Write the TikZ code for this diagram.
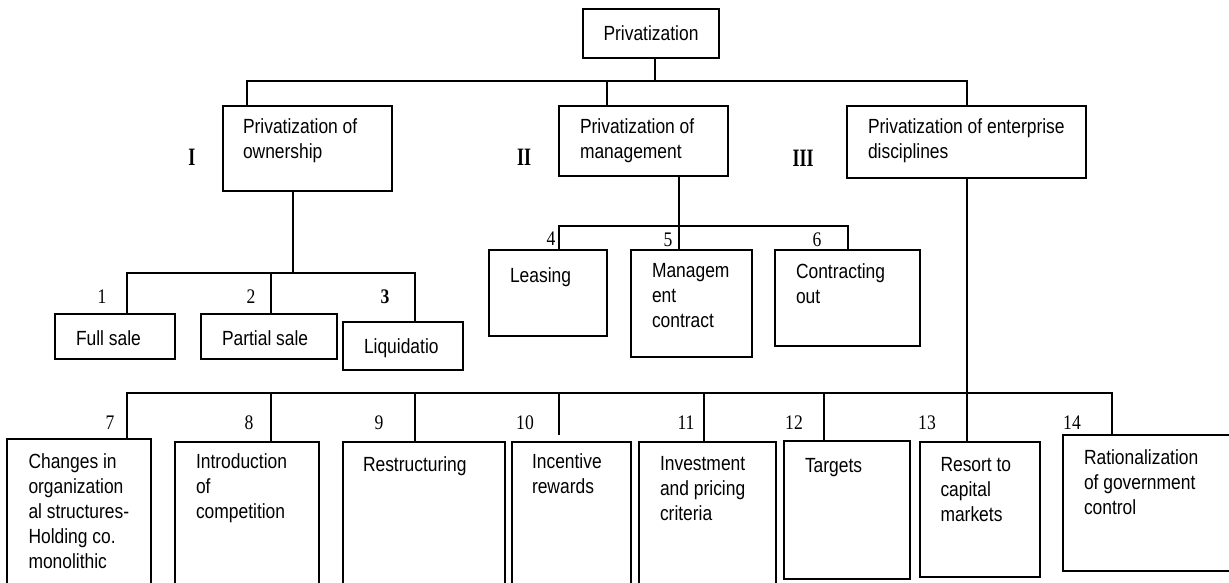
\documentclass[tikz,border=0pt]{standalone}
\usepackage{fontspec}
\setmainfont{Liberation Sans}[FakeStretch=0.85]
\newfontfamily\numfont{Liberation Serif}[FakeStretch=0.85]
\newfontfamily\romfont{Liberation Serif}[FakeStretch=0.72]

\begin{document}
\begin{tikzpicture}[x=1pt,y=-1pt,
  line width=1.9pt,
  box/.style={draw, rectangle, anchor=north west, inner sep=0pt, outer sep=0pt},
  boxfont/.style={font=\fontsize{20.5pt}{25pt}\selectfont},
  txt/.style={boxfont, anchor=north west, inner sep=0pt, outer sep=0pt,
    align=left, execute at begin node=\strut},
  num/.style={inner sep=0pt, font=\numfont\fontsize{20.7pt}{25pt}\selectfont},
  rom/.style={inner sep=0pt, font=\romfont\bfseries\fontsize{25pt}{30pt}\selectfont},
]
\useasboundingbox (0,0) rectangle (1229,582);
\clip (0,0) rectangle (1229,582);

% ---- root and the three branches
\node[box, boxfont, minimum width=136pt, minimum height=49pt] (P) at (583,9) {Privatization};
\node[box, minimum width=169pt, minimum height=85pt] (bI)   at (223,106) {};
\node[box, minimum width=169pt, minimum height=70pt] (bII)  at (559,106) {};
\node[box, minimum width=239pt, minimum height=72pt] (bIII) at (847,106) {};

\node[txt] (tI)   at (243,118.5) {Privatization of\\ownership};
\node[txt] (tII)  at (580,118.5) {Privatization of\\management};
\node[txt] (tIII) at (868,118.5) {Privatization of enterprise\\disciplines};

\node[rom] (rI)   at (192,157) {I};
\node[rom] (rII)  at (524,157) {II};
\node[rom] (rIII) at (803,158) {III};

% ---- branch I: ownership
\node[box, minimum width=120pt, minimum height=45pt] (bFull) at (55,314) {};
\node[box, minimum width=136pt, minimum height=45pt] (bPart) at (201,314) {};
\node[box, minimum width=120pt, minimum height=48pt] (bLiq)  at (343,322) {};
\node[txt] (tFull) at (76,327.5)  {Full sale};
\node[txt] (tPart) at (222,327.5) {Partial sale};
\node[txt] (tLiq)  at (364,335.5) {Liquidatio};
\node[num] (n1) at (102,297) {1};
\node[num] (n2) at (251,297) {2};
\node[num, font=\numfont\bfseries\fontsize{20.7pt}{25pt}\selectfont] (n3) at (385,297) {3};

% ---- branch II: management
\node[box, minimum width=118pt, minimum height=86pt]  (bLea)  at (489,250) {};
\node[box, minimum width=121pt, minimum height=107pt] (bMgmt) at (631,250) {};
\node[box, minimum width=145pt, minimum height=96pt]  (bCon)  at (775,250) {};
\node[txt] (tLea)  at (510,264.5) {Leasing};
\node[txt] (tMgmt) at (652,263.5) {Managem\\ent\\contract};
\node[txt] (tCon)  at (796,263.5) {Contracting\\out};
\node[num] (n4) at (551,239) {4};
\node[num] (n5) at (668,240) {5};
\node[num] (n6) at (817,240) {6};

% ---- branch III: enterprise disciplines
\node[box, minimum width=144pt, minimum height=170pt] (b7)  at (7,439) {};
\node[box, minimum width=144pt, minimum height=170pt] (b8)  at (175,442) {};
\node[box, minimum width=162pt, minimum height=170pt] (b9)  at (343,442) {};
\node[box, minimum width=119pt, minimum height=170pt] (b10) at (512,442) {};
\node[box, minimum width=137pt, minimum height=170pt] (b11) at (639,442) {};
\node[box, minimum width=126pt, minimum height=138pt] (b12) at (784,441) {};
\node[box, minimum width=120pt, minimum height=135pt] (b13) at (920,442) {};
\node[box, minimum width=190pt, minimum height=136pt] (b14) at (1063,435) {};

\node[txt] (t7)  at (28.5,453.5) {Changes in\\organization\\al structures-\\Holding co.\\monolithic};
\node[txt] (t8)  at (196,453.5)  {Introduction\\of\\competition};
\node[txt] (t9)  at (363,453.5)  {Restructuring};
\node[txt] (t10) at (532,453.5)  {Incentive\\rewards};
\node[txt] (t11) at (660,456.5)  {Investment\\and pricing\\criteria};
\node[txt] (t12) at (805,454.5)  {Targets};
\node[txt] (t13) at (940.5,457.5) {Resort to\\capital\\markets};
\node[txt] (t14) at (1084,449.5) {Rationalization\\of government\\control};

\node[num] (n7)  at (110,423)  {7};
\node[num] (n8)  at (249,423)  {8};
\node[num] (n9)  at (379,423)  {9};
\node[num] (n10) at (525,423)  {10};
\node[num] (n11) at (686,423)  {11};
\node[num] (n12) at (794,423)  {12};
\node[num] (n13) at (927,423)  {13};
\node[num] (n14) at (1072,423) {14};

% ---- bus junctions and attachment points
\coordinate (bus1) at (655,81);
\coordinate (bus2) at (293,273);
\coordinate (bus3) at (679,226);
\coordinate (bus4) at (967,393);

\coordinate (dI)   at ([xshift=24pt]bI.north west);
\coordinate (dII)  at ([xshift=48pt]bII.north west);
\coordinate (dIII) at ([xshift=120pt]bIII.north west);

\coordinate (dFull) at ([xshift=72pt]bFull.north west);
\coordinate (dPart) at ([xshift=70pt]bPart.north west);
\coordinate (dLiq)  at ([xshift=72pt]bLiq.north west);

\coordinate (dLea) at ([xshift=70pt]bLea.north west);
\coordinate (dCon) at ([xshift=73pt]bCon.north west);

\coordinate (d7)  at ([xshift=120pt]b7.north west);
\coordinate (d8)  at ([xshift=96pt]b8.north west);
\coordinate (d9)  at ([xshift=72pt]b9.north west);
\coordinate (d10) at (559,435);
\coordinate (d11) at ([xshift=65pt]b11.north west);
\coordinate (d12) at ([xshift=40pt]b12.north west);
\coordinate (d14) at ([xshift=49pt]b14.north west);

% ---- connectors
\draw (P.south -| bus1) -- (bus1);
\draw (dI) |- (bus1) -| (dIII);
\draw (dII) -- (dII |- bus1);

\draw (bI.south -| bus2) -- (bus2);
\draw (dFull) |- (bus2) -| (dLiq);
\draw (dPart) -- (dPart |- bus2);

\draw (bII.south -| bus3) -- (bus3);
\draw (dLea) |- (bus3) -| (dCon);
\draw (bus3) -- (bMgmt.north -| bus3);

\draw (bIII.south -| bus4) -- (b13.north -| bus4);
\draw (d7) |- (bus4) -| (d14);
\draw (d8) -- (d8 |- bus4);
\draw (d9) -- (d9 |- bus4);
\draw (d10) -- (d10 |- bus4);
\draw (d11) -- (d11 |- bus4);
\draw (d12) -- (d12 |- bus4);
\end{tikzpicture}
\end{document}
